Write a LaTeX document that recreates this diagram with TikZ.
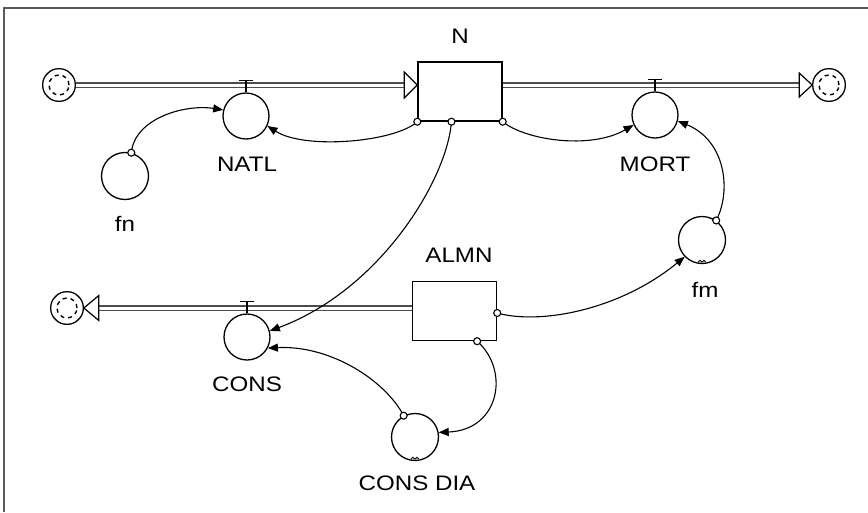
\documentclass[tikz,border=0pt]{standalone}
\usepackage{fontspec}
\usepackage{graphicx}
\setmainfont{Liberation Sans}
\usetikzlibrary{arrows.meta,shapes.geometric,calc}
\newcommand{\labtext}[1]{\scalebox{1.15}[1]{#1}}
\begin{document}
\begin{tikzpicture}[x=1pt,y=-1pt,
  stock/.style={draw,line width=1.4pt,minimum width=84pt,minimum height=59pt,inner sep=0},
  valve/.style={circle,draw,line width=1.3pt,minimum size=46pt,inner sep=0},
  aux/.style={circle,draw,line width=1.3pt,minimum size=47pt,inner sep=0},
  cloud/.style={regular polygon,regular polygon sides=8,draw,line width=1.3pt,
    minimum size=35pt,rounded corners=5pt,inner sep=0},
  swirl/.style={line width=1.4pt,dash pattern=on 4pt off 4pt},
  pipe/.style={draw=gray!60!black,double=white,double distance=3pt,line width=1.9pt},
  flowhead/.style={draw,fill=white,line width=1.2pt,line join=miter},
  tbar/.style={line width=1.3pt},
  link/.style={line width=1.1pt,-{Triangle[length=10pt,width=8pt]}},
  origin/.style={circle,draw,fill=white,line width=1.1pt,minimum size=7pt,inner sep=0},
  txt/.style={inner sep=0,font=\fontsize{21}{24}\selectfont},
  frame/.style={draw=gray!70!black,line width=2pt},
]
\useasboundingbox (0,0) rectangle (868,512);
\draw[frame] (3.7,512) -- (3.7,7.8) -- (868,7.8);

% stocks, clouds, valves and auxiliaries
\node[cloud] (srcN) at (59,85) {};
\node[stock] (N) at (460,91.5) {};
\node[cloud] (sinkN) at (829,85) {};
\node[valve] (NATL) at (246,116) {};
\node[valve] (MORT) at (655,115) {};
\node[stock] (ALMN) at (454.5,311) {};
\node[cloud] (sinkA) at (67,308) {};
\node[valve] (CONS) at (247,337) {};
\node[aux] (fn) at (125,176) {};
\node[aux] (fm) at (702,240) {};
\node[aux] (CD) at (415,437) {};

% swirls inside the clouds
\foreach \c in {srcN,sinkN,sinkA}{
  \draw[swirl] (\c) circle[radius=10pt];
}

% flow pipes
\draw[pipe] (srcN.east) -- ($(srcN -| N.west)+(-13,0)$);
\draw[flowhead] ($(srcN -| N.west)+(-13,-13)$) -- (srcN -| N.west)
  -- ($(srcN -| N.west)+(-13,13)$) -- cycle;
\draw[pipe] (sinkN -| N.east) -- ($(sinkN.west)+(-13,0)$);
\draw[flowhead] ($(sinkN.west)+(-13,-12)$) -- (sinkN.west)
  -- ($(sinkN.west)+(-13,12)$) -- cycle;
\draw[pipe] (sinkA -| ALMN.west) -- ($(sinkA.east)+(15,0)$);
\draw[flowhead] ($(sinkA.east)+(15,-12.5)$) -- (sinkA.east)
  -- ($(sinkA.east)+(15,12.5)$) -- cycle;

% valve handles
\foreach \v in {NATL,MORT,CONS}{
  \draw[tbar] (\v.north) -- ++(0,-12);
  \draw[tbar] ($(\v.north)+(-7,-12)$) -- ++(14,0);
}

% graph marks
\foreach \a in {fm,CD}{
  \draw[line width=0.9pt] ($(\a.south)+(-4,-2)$) -- ++(2,-2) -- ++(2,2) -- ++(2,-2) -- ++(2,2);
}

% information links
\draw[link] (fn.75) .. controls (135,118) and (185,104) .. (NATL.165);
\draw[link] (N.south west) .. controls (395,142) and (305,150) .. (NATL.-25);
\coordinate (nb) at ($(N.south west)!0.4!(N.south east)$);
\draw[link] (nb) .. controls (447,180) and (380,290) .. (CONS.15);
\draw[link] (N.south east) .. controls (525,140) and (590,150) .. (MORT.205);
\draw[link] (fm.54) .. controls (732,190) and (725,140) .. (MORT.-15);
\coordinate (ae) at ($(ALMN.east)+(0,2)$);
\draw[link] (ae) .. controls (540,325) and (620,310) .. (fm.224);
\coordinate (ab) at ($(ALMN.south west)!0.765!(ALMN.south east)$);
\draw[link] (ab) .. controls (510,370) and (500,430) .. (CD.11);
\draw[link] (CD.118) .. controls (385,380) and (330,345) .. (CONS.-28);

% link origins
\node[origin] (o1) at (fn.75) {};
\node[origin] (o2) at (N.south west) {};
\node[origin] (o3) at (nb) {};
\node[origin] (o4) at (N.south east) {};
\node[origin] (o5) at (fm.54) {};
\node[origin] (o6) at (ae) {};
\node[origin] (o7) at (ab) {};
\node[origin] (o8) at (CD.118) {};

% labels
\node[txt] (N-l) at (460,36) {\labtext{N}};
\node[txt] (NATL-l) at (247,164) {\labtext{NATL}};
\node[txt] (MORT-l) at (655,164) {\labtext{MORT}};
\node[txt] (fn-l) at (125,224) {\labtext{fn}};
\node[txt] (fm-l) at (705,290) {\labtext{fm}};
\node[txt] (ALMN-l) at (459,255) {\labtext{ALMN}};
\node[txt] (CONS-l) at (247,384) {\labtext{CONS}};
\node[txt] (CD-l) at (417,483) {\labtext{CONS DIA}};
\end{tikzpicture}
\end{document}
